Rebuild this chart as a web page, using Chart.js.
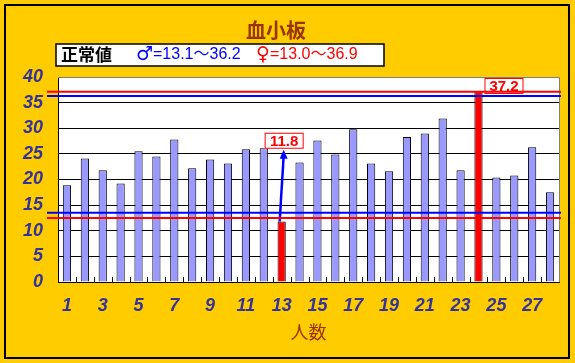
<!DOCTYPE html>
<html>
<head>
<meta charset="utf-8">
<script src="https://cdn.jsdelivr.net/npm/chart.js@4"></script>
<style>
  body { margin: 0; background: #FFCC00; }
</style>
</head>
<body>
<canvas id="myChart" width="575" height="363"></canvas>
<script>
    // 人数 (1..28)
    const labels = ['1','2','3','4','5','6','7','8','9','10','11','12','13','14',
                    '15','16','17','18','19','20','21','22','23','24','25','26','27','28'];
    // 血小板 values
    const plateletValues = [18.9, 24.1, 21.8, 19.2, 25.5, 24.5, 27.8, 22.2, 23.9, 23.1,
                            25.9, 26.1, 11.8, 23.3, 27.6, 24.9, 29.8, 23.1, 21.6, 28.3,
                            29.0, 31.9, 21.8, 37.2, 20.4, 20.8, 26.3, 17.5];
    // normal ranges as in the legend
    const maleRange = [13.1, 36.2];
    const femaleRange = [13.0, 36.9];
    // where the limit lines sit in the picture
    const maleLines = [13.5, 36.3];
    const femaleLines = [12.5, 37.1];
    const yMin = 0, yMax = 40, yStep = 5;

    const outOfRange = v => v < femaleRange[0] || v > femaleRange[1];
    const barColors = plateletValues.map(v => outOfRange(v) ? '#FF0000' : '#9999FF');

    const decor = {
        id: 'decor',
        beforeDraw(chart) {
            const ctx = chart.ctx, a = chart.chartArea;
            ctx.save();
            ctx.fillStyle = '#FFCC00';
            ctx.fillRect(0, 0, chart.width, chart.height);
            ctx.strokeStyle = '#000';
            ctx.lineWidth = 2;
            ctx.strokeRect(5, 5, 564, 353);
            ctx.fillStyle = '#fff';
            ctx.fillRect(a.left, a.top, a.right - a.left, a.bottom - a.top);

            // title
            ctx.fillStyle = '#993300';
            ctx.font = 'bold 20px "Noto Sans CJK JP"';
            ctx.textAlign = 'center';
            ctx.textBaseline = 'middle';
            ctx.fillText('血小板', 276, 30);

            // legend box
            ctx.fillStyle = '#fff';
            ctx.fillRect(56, 44, 328, 22);
            ctx.strokeStyle = '#000';
            ctx.lineWidth = 1.5;
            ctx.strokeRect(56, 44, 328, 22);
            ctx.textAlign = 'left';
            ctx.font = 'bold 17px "Noto Sans CJK JP"';
            ctx.fillStyle = '#000';
            ctx.fillText('正常値', 61, 55);
            const sym = '19px "DejaVu Sans"';
            const txt = '16px "Liberation Sans", "Noto Sans CJK JP"';
            ctx.fillStyle = '#0000FF';
            ctx.font = sym;
            ctx.fillText('♂', 136, 55);
            ctx.font = txt;
            ctx.fillText('=' + maleRange[0] + '～' + maleRange[1], 153, 55);
            ctx.fillStyle = '#FF0000';
            ctx.font = sym;
            ctx.fillText('♀', 256, 55);
            ctx.font = txt;
            ctx.fillText('=' + femaleRange[0].toFixed(1) + '～' + femaleRange[1], 270, 55);

            // x title
            ctx.fillStyle = '#993300';
            ctx.font = '18px "Noto Sans CJK JP"';
            ctx.textAlign = 'center';
            ctx.fillText('人数', (a.left + a.right) / 2, 332);
            ctx.restore();
        },
        afterDatasetsDraw(chart) {
            const ctx = chart.ctx, a = chart.chartArea;
            const xS = chart.scales.x, yS = chart.scales.y;
            ctx.save();

            // small ticks between categories
            ctx.strokeStyle = '#000';
            ctx.lineWidth = 1;
            for (let i = 0; i <= labels.length; i++) {
                const x = Math.round(xS.getPixelForValue(i - 0.5)) + 0.5;
                ctx.beginPath();
                ctx.moveTo(x, a.bottom);
                ctx.lineTo(x, a.bottom - 5);
                ctx.stroke();
            }
            // grey top / right frame
            ctx.strokeStyle = '#808080';
            ctx.beginPath();
            ctx.moveTo(a.left, a.top + 0.5);
            ctx.lineTo(a.right + 0.5, a.top + 0.5);
            ctx.lineTo(a.right + 0.5, a.bottom);
            ctx.stroke();

            // callouts for out-of-range values
            ctx.font = 'bold 15px "Liberation Sans"';
            ctx.textAlign = 'center';
            ctx.textBaseline = 'middle';
            plateletValues.forEach((v, i) => {
                if (!outOfRange(v)) return;
                const bx = xS.getPixelForValue(i);
                const by = yS.getPixelForValue(v);
                let left, top;
                if (v < femaleRange[0]) {
                    left = bx - 17;
                    top = yS.getPixelForValue(26) - 16;
                    // arrow
                    const tipX = bx + 2, tipY = top + 17;
                    ctx.strokeStyle = '#0000FF';
                    ctx.lineWidth = 2.5;
                    ctx.beginPath();
                    ctx.moveTo(bx - 2, by);
                    ctx.lineTo(tipX, tipY + 6);
                    ctx.stroke();
                    ctx.fillStyle = '#0000FF';
                    ctx.beginPath();
                    ctx.moveTo(tipX, tipY);
                    ctx.lineTo(tipX - 4, tipY + 9);
                    ctx.lineTo(tipX + 4, tipY + 9);
                    ctx.closePath();
                    ctx.fill();
                } else {
                    left = bx + 6;
                    top = yS.getPixelForValue(yMax) + 1;
                }
                ctx.fillStyle = '#fff';
                ctx.fillRect(left, top, 39, 16);
                ctx.strokeStyle = '#FF0000';
                ctx.lineWidth = 1;
                ctx.strokeRect(left + 0.5, top + 0.5, 38, 15);
                ctx.fillStyle = '#FF0000';
                ctx.fillText(v.toFixed(1), left + 19.5, top + 9);
            });

            // limit lines
            const drawLine = (val, color) => {
                const y = yS.getPixelForValue(val);
                ctx.strokeStyle = color;
                ctx.lineWidth = 2;
                ctx.beginPath();
                ctx.moveTo(a.left - 11, y);
                ctx.lineTo(a.right + 2, y);
                ctx.stroke();
            };
            maleLines.forEach(v => drawLine(v, '#0000FF'));
            femaleLines.forEach(v => drawLine(v, '#FF0000'));
            ctx.restore();
        }
    };

    const tickFont = { family: 'Liberation Sans', size: 18, style: 'italic', weight: 'bold' };

    const data = {
        labels: labels,
        datasets: [
            {
                label: '血小板',
                data: plateletValues,
                backgroundColor: barColors,
                borderColor: '#000',
                borderWidth: 1,
                borderSkipped: 'bottom',
                categoryPercentage: 1,
                barPercentage: 0.46
            }
        ]
    };

    const config = {
        type: 'bar',
        data: data,
        options: {
            responsive: false,
            animation: false,
            layout: { padding: { top: 77, right: 16, left: 0, bottom: 0 } },
            plugins: {
                legend: { display: false },
                title: { display: false },
                tooltip: { enabled: false }
            },
            scales: {
                x: {
                    afterFit: s => { s.height = 81; },
                    grid: { display: false, drawTicks: false },
                    border: { display: true, color: '#000', width: 1 },
                    ticks: {
                        autoSkip: false,
                        maxRotation: 0,
                        padding: 13,
                        color: '#333399',
                        font: tickFont,
                        callback: (val, i) => i % 2 === 0 ? labels[i] : ''
                    }
                },
                y: {
                    min: yMin,
                    max: yMax,
                    afterFit: s => { s.width = 58; },
                    grid: {
                        drawTicks: false,
                        color: c => c.tick && c.tick.value === yMax ? 'rgba(0,0,0,0)' : '#000'
                    },
                    border: { display: true, color: '#000', width: 1 },
                    ticks: {
                        stepSize: yStep,
                        padding: 15,
                        color: '#333399',
                        font: tickFont
                    }
                }
            }
        },
        plugins: [decor]
    };

    const myChart = new Chart(document.getElementById('myChart'), config);
</script>
</body>
</html>
